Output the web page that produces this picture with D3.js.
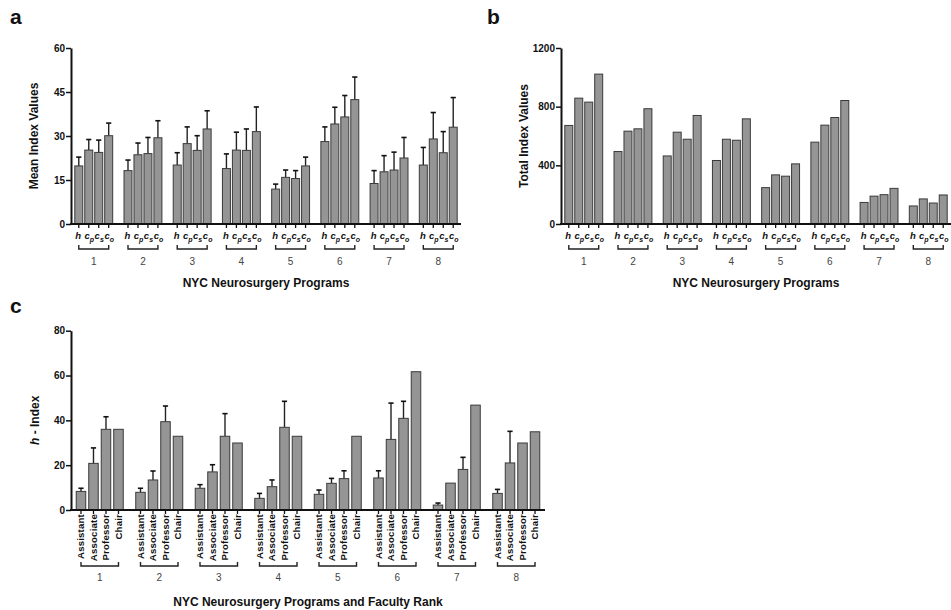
<!DOCTYPE html>
<html><head><meta charset="utf-8">
<script src="https://cdn.jsdelivr.net/npm/d3@7"></script>
<style>
body{margin:0;background:#fff}
svg{display:block;font-family:Arial,"Liberation Sans",sans-serif}
</style>
</head><body>
<svg id="chart" width="951" height="610"></svg>
<script>
// ---------- data ----------
const programs = ["1","2","3","4","5","6","7","8"];
const indexTypes = ["h","cp","cs","co"];
// panel a: mean index values (bar) and upper error (SD)
const meanIndexValues = [
  [19.8, 25.2, 24.4, 30.1],
  [18.2, 23.6, 24.0, 29.4],
  [20.1, 27.4, 25.1, 32.4],
  [18.9, 25.2, 25.1, 31.5],
  [11.9, 15.9, 15.5, 19.8],
  [28.1, 34.1, 36.5, 42.4],
  [13.8, 17.8, 18.4, 22.5],
  [20.1, 29.0, 24.3, 33.0]
];
const meanIndexErrors = [
  [3.0, 3.6, 4.2, 4.3],
  [3.6, 4.0, 5.5, 5.8],
  [4.2, 5.7, 5.0, 6.2],
  [5.0, 6.1, 7.3, 8.4],
  [1.7, 2.5, 2.7, 3.0],
  [5.0, 5.7, 7.3, 7.7],
  [4.4, 5.5, 6.1, 7.0],
  [6.0, 9.0, 7.2, 10.1]
];
// panel b: total index values
const totalIndexValues = [
  [672, 858, 831, 1022],
  [494, 633, 649, 786],
  [464, 626, 578, 740],
  [433, 578, 571, 717],
  [248, 335, 326, 410],
  [558, 674, 726, 842],
  [147, 190, 200, 243],
  [123, 171, 143, 198]
];
// panel c: h-index by faculty rank (null error = no error bar)
const facultyRanks = ["Assistant","Associate","Professor","Chair"];
const hIndexByRank = [
  [8.3, 20.8, 36.0, 36.0],
  [7.9, 13.4, 39.4, 32.9],
  [9.7, 17.0, 32.9, 29.9],
  [5.2, 10.4, 36.9, 32.9],
  [7.0, 11.9, 14.0, 32.9],
  [14.3, 31.5, 40.9, 61.7],
  [2.2, 12.0, 18.1, 46.8],
  [7.4, 21.0, 29.9, 34.9]
];
const hIndexErrors = [
  [1.4, 6.9, 5.6, null],
  [1.8, 4.0, 7.0, null],
  [1.6, 3.2, 10.1, null],
  [2.2, 3.0, 11.6, null],
  [1.9, 2.2, 3.5, null],
  [3.2, 16.2, 7.6, null],
  [0.9, null, 5.4, null],
  [1.8, 14.1, null, null]
];
const meanTicks = [0, 15, 30, 45, 60];
const totalTicks = [0, 400, 800, 1200];
const hTicks = [0, 20, 40, 60, 80];

// ---------- drawing ----------
const svg = d3.select("#chart");
const BAR_FILL = "#959595", BAR_STROKE = "#3a3a3a", INK = "#111";

function drawPanel(o) {
  const g = svg.append("g");
  const x0 = d3.scaleBand().domain(programs).range(o.xRange)
    .paddingInner(o.groupPad).paddingOuter(o.outerPad);
  const x1 = d3.scaleBand().domain(o.keys).range([0, x0.bandwidth()])
    .paddingInner(o.barPad).paddingOuter(0);
  const y = d3.scaleLinear().domain(o.yDomain).range(o.yRange);
  const y0 = y(0);
  const rows = programs.flatMap((p, i) => o.keys.map((k, j) => ({
    p, k, v: o.values[i][j], e: o.errors ? o.errors[i][j] : null
  })));
  const cx = d => x0(d.p) + x1(d.k) + x1.bandwidth() / 2;

  // error bars
  const eb = g.append("g").selectAll("g").data(rows.filter(d => d.e != null)).join("g");
  eb.append("line").attr("x1", cx).attr("x2", cx)
    .attr("y1", d => y(d.v)).attr("y2", d => y(d.v + d.e))
    .attr("stroke", "#222").attr("stroke-width", 1.4);
  eb.append("line").attr("x1", d => cx(d) - 2.6).attr("x2", d => cx(d) + 2.6)
    .attr("y1", d => y(d.v + d.e)).attr("y2", d => y(d.v + d.e))
    .attr("stroke", "#111").attr("stroke-width", 1.6);

  // bars
  g.append("g").selectAll("rect").data(rows).join("rect")
    .attr("x", d => x0(d.p) + x1(d.k))
    .attr("y", d => y(d.v))
    .attr("width", x1.bandwidth())
    .attr("height", d => y0 - y(d.v))
    .attr("fill", BAR_FILL).attr("stroke", BAR_STROKE).attr("stroke-width", 1);

  // y axis
  const ya = g.append("g").attr("transform", `translate(${o.xRange[0]},0)`)
    .call(d3.axisLeft(y).tickValues(o.ticks).tickFormat(d3.format("d"))
      .tickSize(5).tickSizeOuter(0).tickPadding(1));
  ya.select(".domain").attr("stroke", INK).attr("stroke-width", 2);
  ya.selectAll(".tick line").attr("stroke", INK).attr("stroke-width", 1.5);
  ya.selectAll(".tick text").attr("font-size", 10).attr("font-weight", "bold")
    .attr("fill", INK).attr("font-family", "Arial, 'Liberation Sans', sans-serif");

  // x axis line and ticks at bar centres
  g.append("line").attr("x1", o.xRange[0] - 1).attr("x2", o.xRange[1])
    .attr("y1", y0).attr("y2", y0).attr("stroke", INK).attr("stroke-width", 2);
  g.append("g").selectAll("line").data(rows).join("line")
    .attr("x1", cx).attr("x2", cx).attr("y1", y0).attr("y2", y0 + 4)
    .attr("stroke", INK).attr("stroke-width", 1.3);

  // category labels
  if (o.labelMode === "sub") {
    const t = g.append("g").selectAll("text").data(rows).join("text")
      .attr("x", d => cx(d) + (d.k.length > 1 ? 0.5 : -0.5)).attr("y", y0 + o.labelDy)
      .attr("text-anchor", "middle").attr("font-size", 9.5)
      .attr("font-weight", "bold").attr("font-style", "italic").attr("fill", INK);
    t.each(function(d) {
      const s = d3.select(this);
      s.append("tspan").text(d.k[0]);
      if (d.k.length > 1) s.append("tspan").attr("dy", 3).attr("font-size", 7).text(d.k.slice(1));
    });
  } else {
    g.append("g").selectAll("text").data(rows).join("text")
      .attr("transform", d => `translate(${cx(d)},${y0 + o.labelDy}) rotate(-90)`)
      .attr("dy", "0.36em").attr("text-anchor", "end")
      .attr("font-size", 9.6).attr("font-weight", "bold").attr("fill", INK)
      .attr("letter-spacing", 0.2)
      .text(d => d.k);
  }

  // brackets + program numbers
  const first = o.keys[0], last = o.keys[o.keys.length - 1];
  const bx = (p, k) => x0(p) + x1(k) + x1.bandwidth() / 2;
  g.append("g").selectAll("path").data(programs).join("path")
    .attr("d", p => `M${bx(p, first)},${y0 + o.brTop}V${y0 + o.brBot}H${bx(p, last)}V${y0 + o.brTop}`)
    .attr("fill", "none").attr("stroke", "#222").attr("stroke-width", 1.4);
  g.append("g").selectAll("text").data(programs).join("text")
    .attr("x", p => (bx(p, first) + bx(p, last)) / 2).attr("y", y0 + o.numDy)
    .attr("text-anchor", "middle").attr("font-size", 10).attr("fill", "#444")
    .text(p => p);

  // axis titles
  g.append("text").attr("x", (o.xRange[0] + o.xRange[1]) / 2).attr("y", y0 + o.titleDy)
    .attr("text-anchor", "middle").attr("font-size", 12).attr("font-weight", "bold")
    .attr("fill", INK).text(o.xTitle);
  const yt = g.append("text")
    .attr("transform", `translate(${o.yTitleX},${(o.yRange[0] + o.yRange[1]) / 2}) rotate(-90)`)
    .attr("text-anchor", "middle").attr("font-size", 12).attr("font-weight", "bold").attr("fill", INK);
  o.yTitle.forEach(part => yt.append("tspan").attr("font-style", part.italic ? "italic" : "normal").text(part.t));

  // panel letter
  g.append("text").attr("x", o.letterPos[0]).attr("y", o.letterPos[1])
    .attr("font-size", 21).attr("font-weight", "bold").attr("fill", INK).text(o.letter);
}

drawPanel({
  letter: "a", letterPos: [10, 24],
  keys: indexTypes, values: meanIndexValues, errors: meanIndexErrors,
  xRange: [71, 461], yRange: [224, 48], yDomain: [0, 60], ticks: meanTicks,
  groupPad: 0.23, outerPad: 0.077, barPad: 0.2,
  labelMode: "sub", labelDy: 15, brTop: 21, brBot: 25, numDy: 41, titleDy: 63,
  xTitle: "NYC Neurosurgery Programs", yTitle: [{t: "Mean Index Values"}], yTitleX: 37.5
});
drawPanel({
  letter: "b", letterPos: [487, 24],
  keys: indexTypes, values: totalIndexValues, errors: null,
  xRange: [561, 951], yRange: [224, 48], yDomain: [0, 1200], ticks: totalTicks,
  groupPad: 0.23, outerPad: 0.077, barPad: 0.2,
  labelMode: "sub", labelDy: 15, brTop: 21, brBot: 25, numDy: 41, titleDy: 63,
  xTitle: "NYC Neurosurgery Programs", yTitle: [{t: "Total Index Values"}], yTitleX: 527.5
});
drawPanel({
  letter: "c", letterPos: [10, 313],
  keys: facultyRanks, values: hIndexByRank, errors: hIndexErrors,
  xRange: [71, 545], yRange: [510, 330.7], yDomain: [0, 80], ticks: hTicks,
  groupPad: 0.21, outerPad: 0.088, barPad: 0.24,
  labelMode: "rot", labelDy: 4, brTop: 52, brBot: 56, numDy: 71, titleDy: 96,
  xTitle: "NYC Neurosurgery Programs and Faculty Rank",
  yTitle: [{t: "h", italic: true}, {t: " - Index"}], yTitleX: 38.5
});
</script>
</body></html>
